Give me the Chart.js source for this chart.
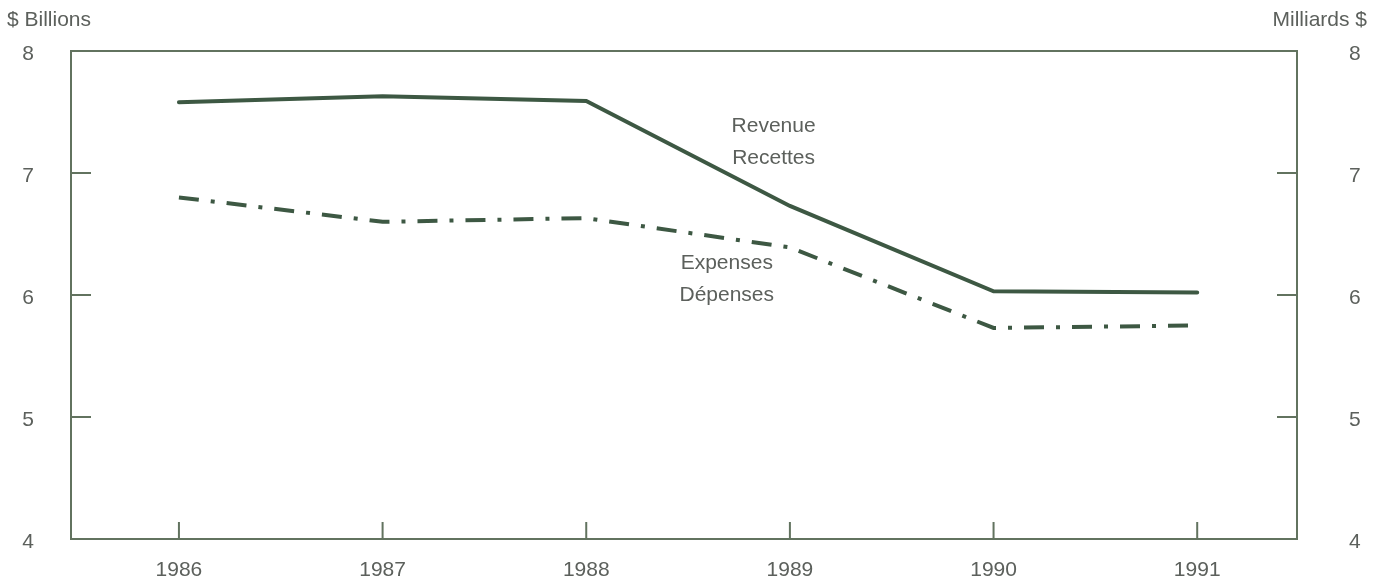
<!DOCTYPE html>
<html>
<head>
<meta charset="utf-8">
<script src="https://cdn.jsdelivr.net/npm/chart.js@4.4.1/dist/chart.umd.min.js"></script>
<style>
  html, body { margin: 0; padding: 0; background: #fff; }
  #wrap { position: relative; width: 1381px; height: 583px; }
</style>
</head>
<body>
<div id="wrap"><canvas id="chart"></canvas></div>
<script>
const years = [1986, 1987, 1988, 1989, 1990, 1991];
const revenue = [7.58, 7.63, 7.59, 6.73, 6.03, 6.02];
const expenses = [6.80, 6.60, 6.63, 6.39, 5.73, 5.75];
const yTicks = [4, 5, 6, 7, 8];

const lineColor = "#3d5843";
const axisColor = "#62735f";
const textColor = "#5c605c";
const fontFamily = "'Liberation Sans', Arial, sans-serif";
const fontSize = 21;

// labels placed next to the lines, anchored on data coordinates
const seriesLabels = [
  { lines: ["Revenue", "Recettes"], x: 1988.92, y: 7.385 },
  { lines: ["Expenses", "Dépenses"], x: 1988.69, y: 6.26 },
];

const toPoints = (vals) => vals.map((v, i) => ({ x: years[i], y: v }));

// frame, inward tick marks and all text, like the printed chart
const framePlugin = {
  id: "frame",
  afterDatasetsDraw(chart) {
    const { ctx, chartArea: a, scales } = chart;
    ctx.save();
    ctx.strokeStyle = axisColor;
    ctx.lineWidth = 2;
    ctx.strokeRect(a.left, a.top, a.right - a.left, a.bottom - a.top);
    ctx.beginPath();
    yTicks.forEach((t) => {
      const py = scales.y.getPixelForValue(t);
      ctx.moveTo(a.left, py); ctx.lineTo(a.left + 20, py);
      ctx.moveTo(a.right, py); ctx.lineTo(a.right - 20, py);
    });
    years.forEach((yr) => {
      const px = scales.x.getPixelForValue(yr);
      ctx.moveTo(px, a.bottom); ctx.lineTo(px, a.bottom - 17);
    });
    ctx.stroke();

    ctx.fillStyle = textColor;
    ctx.font = fontSize + "px " + fontFamily;
    ctx.textBaseline = "middle";

    ctx.textAlign = "left";
    ctx.fillText("$ Billions", 7, 20);
    yTicks.forEach((t) => {
      ctx.fillText(String(t), a.right + 52, scales.y.getPixelForValue(t) + 3);
    });

    ctx.textAlign = "right";
    ctx.fillText("Milliards $", 1367, 20);
    yTicks.forEach((t) => {
      ctx.fillText(String(t), a.left - 37, scales.y.getPixelForValue(t) + 3);
    });

    ctx.textAlign = "center";
    years.forEach((yr) => {
      ctx.fillText(String(yr), scales.x.getPixelForValue(yr), a.bottom + 31);
    });
    seriesLabels.forEach((lab) => {
      const px = scales.x.getPixelForValue(lab.x);
      const py = scales.y.getPixelForValue(lab.y);
      lab.lines.forEach((t, i) => ctx.fillText(t, px, py + i * 32));
    });
    ctx.restore();
  },
};

new Chart(document.getElementById("chart"), {
  type: "line",
  data: {
    datasets: [
      {
        label: "Revenue",
        data: toPoints(revenue),
        borderColor: lineColor,
        borderWidth: 4,
        pointRadius: 0,
        tension: 0,
        borderCapStyle: "round",
      },
      {
        label: "Expenses",
        data: toPoints(expenses),
        borderColor: lineColor,
        borderWidth: 4,
        pointRadius: 0,
        tension: 0,
        borderDash: [20, 12, 4, 12],
      },
    ],
  },
  options: {
    responsive: true,
    maintainAspectRatio: false,
    animation: false,
    layout: { padding: { top: 51, right: 84, bottom: 44, left: 71 } },
    plugins: { legend: { display: false }, tooltip: { enabled: false } },
    scales: {
      x: { type: "linear", min: 1985.47, max: 1991.49, display: false },
      y: { min: 4, max: 8, display: false },
    },
  },
  plugins: [framePlugin],
});
</script>
</body>
</html>
